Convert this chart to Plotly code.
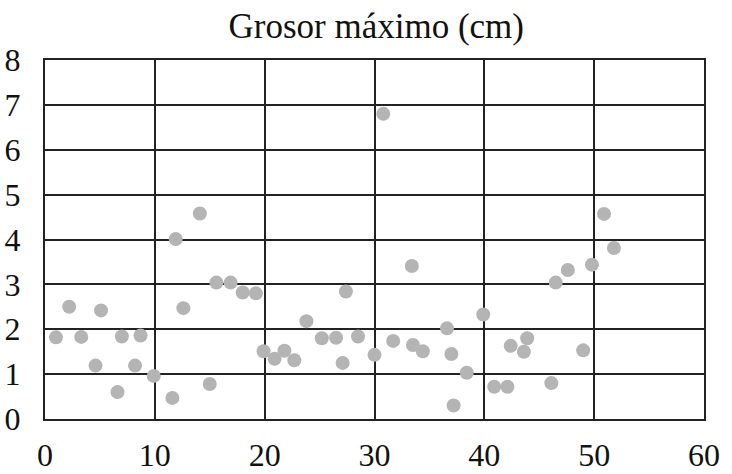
import plotly.graph_objects as go

x_vals = [1.0, 2.2, 3.3, 4.6, 5.1, 6.6, 7.0, 8.2, 8.7, 9.9,
          11.6, 11.9, 12.6, 14.1, 15.0, 15.6, 16.9, 18.0, 19.2, 19.9,
          20.9, 21.8, 22.7, 23.8, 25.2, 26.5, 27.1, 27.4, 28.5, 30.0,
          30.8, 31.7, 33.4, 33.5, 34.4, 36.6, 37.0, 37.2, 38.4, 39.9,
          40.9, 42.1, 42.4, 43.6, 43.9, 46.1, 46.5, 47.6, 49.0, 49.8,
          50.9, 51.8]
y_vals = [1.82, 2.50, 1.83, 1.19, 2.42, 0.60, 1.84, 1.19, 1.86, 0.96,
          0.47, 4.01, 2.47, 4.58, 0.78, 3.04, 3.04, 2.82, 2.80, 1.51,
          1.34, 1.52, 1.31, 2.18, 1.80, 1.81, 1.25, 2.84, 1.84, 1.43,
          6.80, 1.74, 3.41, 1.65, 1.51, 2.02, 1.45, 0.30, 1.03, 2.33,
          0.72, 0.72, 1.63, 1.50, 1.80, 0.80, 3.04, 3.32, 1.53, 3.44,
          4.57, 3.81]

title_text = "Grosor máximo (cm)"
x_ticks = [0, 10, 20, 30, 40, 50, 60]
y_ticks = [0, 1, 2, 3, 4, 5, 6, 7, 8]

fig = go.Figure(go.Scatter(
    x=x_vals, y=y_vals, mode="markers",
    marker=dict(size=14, color="#b4b4b4", line=dict(width=0)),
))

font_family = "Liberation Serif, Times New Roman, serif"

fig.update_layout(
    width=732, height=474,
    margin=dict(l=45, r=28, t=60, b=55),
    paper_bgcolor="white", plot_bgcolor="white",
    showlegend=False,
    title=dict(text=title_text, x=0.514, xanchor="center", y=0.972, yanchor="top",
               font=dict(family=font_family, size=35, color="#111")),
    font=dict(family=font_family, color="#111"),
)
fig.update_xaxes(
    range=[0, 60], tickvals=x_ticks, ticktext=[str(v) for v in x_ticks],
    showgrid=True, gridcolor="#222", gridwidth=2,
    showline=True, linecolor="#222", linewidth=2, mirror=True,
    zeroline=False, ticks="", ticklabelstandoff=7, automargin=False,
    tickfont=dict(family=font_family, size=32, color="#111"),
)
fig.update_yaxes(
    range=[0, 8], tickvals=y_ticks, ticktext=[str(v) for v in y_ticks],
    showgrid=True, gridcolor="#222", gridwidth=2,
    showline=True, linecolor="#222", linewidth=2, mirror=True,
    zeroline=False, ticks="", ticklabelstandoff=16, automargin=False,
    tickfont=dict(family=font_family, size=32, color="#111"),
)

fig.write_html(
    "out.html",
    config={"displayModeBar": False},
    post_script="document.body.style.margin='0';document.body.style.overflow='hidden';",
)
